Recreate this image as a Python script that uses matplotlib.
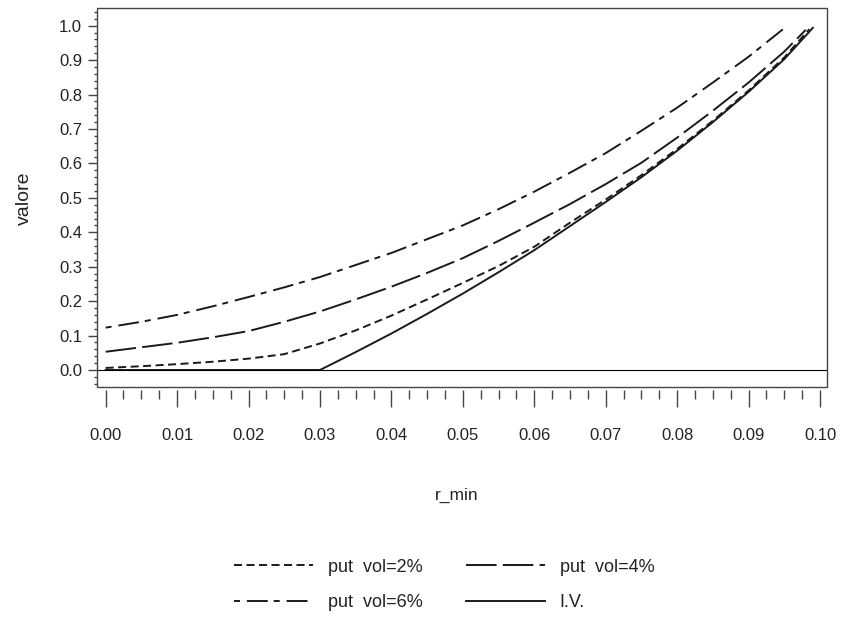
import matplotlib
matplotlib.use('Agg')
import matplotlib.pyplot as plt
from matplotlib.patches import Rectangle
from matplotlib.ticker import MultipleLocator, FormatStrFormatter

# values
r_min = [0.0, 0.005, 0.01, 0.015, 0.02, 0.025, 0.03, 0.035, 0.04, 0.045,
         0.05, 0.055, 0.06, 0.065, 0.07, 0.075, 0.08, 0.085, 0.09, 0.095]

vol2 = [0.006, 0.011, 0.017, 0.024, 0.033, 0.046, 0.077, 0.115, 0.158, 0.205,
        0.253, 0.302, 0.358, 0.428, 0.495, 0.566, 0.642, 0.724, 0.812, 0.908]
vol2_x_end, vol2_end = 0.0985, 0.99

vol4 = [0.053, 0.066, 0.079, 0.095, 0.113, 0.14, 0.17, 0.205, 0.242, 0.282,
        0.325, 0.375, 0.428, 0.482, 0.54, 0.602, 0.675, 0.753, 0.835, 0.925]
vol4_x_end, vol4_end = 0.098, 0.988

vol6 = [0.123, 0.14, 0.16, 0.185, 0.212, 0.24, 0.27, 0.305, 0.34, 0.38,
        0.42, 0.467, 0.518, 0.573, 0.63, 0.695, 0.762, 0.835, 0.91, 0.993]

iv = [0.0, 0.0, 0.0, 0.0, 0.0, 0.0, 0.0, 0.052, 0.106, 0.163,
      0.222, 0.284, 0.348, 0.418, 0.488, 0.56, 0.637, 0.72, 0.808, 0.903]
iv_x_end, iv_end = 0.099, 0.994

labels = ['put  vol=2%', 'put  vol=4%', 'put  vol=6%', 'I.V.']

plt.rcParams['font.family'] = ['Liberation Sans', 'DejaVu Sans']
plt.rcParams['lines.scale_dashes'] = False
text_col = '#222222'
frame_col = '#444444'
line_col = '#1a1a1a'

fig = plt.figure(figsize=(8.42, 6.21), dpi=100)
ax = fig.add_axes([0.1156, 0.3763, 0.867, 0.6103])

lw = 1.4
l2, = ax.plot(r_min + [vol2_x_end], vol2 + [vol2_end], color=line_col, lw=lw,
              dashes=(5.8, 3.2))
l4, = ax.plot(r_min + [vol4_x_end], vol4 + [vol4_end], color=line_col, lw=lw,
              dashes=(22, 4.5))
l6, = ax.plot(r_min, vol6, color=line_col, lw=lw,
              dashes=(4.3, 5, 15, 4.3))
liv, = ax.plot(r_min + [iv_x_end], iv + [iv_end], color=line_col, lw=lw)

ax.axhline(0, color='black', lw=0.8)

ax.set_xlim(-0.00116, 0.10102)
ax.set_ylim(-0.0503, 1.0505)

# frame drawn separately, x ticks sit a bit below it
for s in ax.spines.values():
    s.set_visible(False)
ax.add_patch(Rectangle((0, 0), 1, 1, transform=ax.transAxes, fill=False,
                       edgecolor=frame_col, lw=1.0, clip_on=False, zorder=5))
ax.spines['bottom'].set_visible(True)
ax.spines['bottom'].set_color('none')
ax.spines['bottom'].set_position(('outward', 2.2))

ax.xaxis.set_major_locator(MultipleLocator(0.01))
ax.xaxis.set_minor_locator(MultipleLocator(0.0025))
ax.xaxis.set_major_formatter(FormatStrFormatter('%.2f'))
ax.yaxis.set_major_locator(MultipleLocator(0.1))
ax.yaxis.set_minor_locator(MultipleLocator(0.02))
ax.yaxis.set_major_formatter(FormatStrFormatter('%.1f'))

ax.tick_params(axis='x', which='major', direction='out', length=12.2, width=1.0,
               pad=15, labelsize=12, colors=frame_col, labelcolor=text_col)
ax.tick_params(axis='x', which='minor', direction='out', length=6.5, width=1.0,
               colors=frame_col)
ax.tick_params(axis='y', which='major', direction='out', length=6.5, width=1.0,
               pad=4.5, labelsize=12, colors=frame_col, labelcolor=text_col)
ax.tick_params(axis='y', which='minor', direction='out', length=2.5, width=1.0,
               colors=frame_col)

fig.text(24 / 842, 1 - 198 / 621, 'valore', rotation=90, ha='center',
         va='center', fontsize=14, color=text_col)
fig.text(457 / 842, 1 - 495 / 621, 'r_min', ha='center', va='center',
         fontsize=12.5, color=text_col)

fig.legend([l2, l6, l4, liv], [labels[0], labels[2], labels[1], labels[3]],
           ncol=2, loc='center', bbox_to_anchor=(444 / 842, 1 - 585 / 621),
           frameon=False, fontsize=13, handlelength=4.4, handletextpad=0.8,
           columnspacing=2.4, labelspacing=1.05, labelcolor=text_col)

fig.savefig('out.png', dpi=100)
